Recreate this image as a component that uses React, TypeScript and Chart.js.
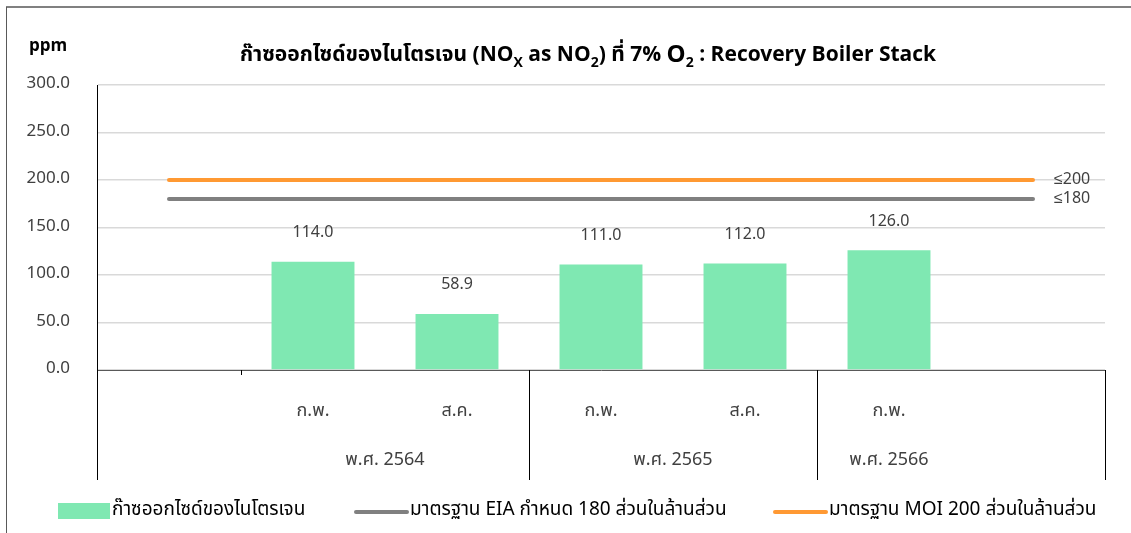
import React, { useEffect, useRef } from 'react';
import { Chart, registerables } from 'chart.js';

Chart.register(...registerables);

const FONT = "'Noto Sans Thai', 'Noto Sans', sans-serif";

const categories = ['', 'ก.พ.', 'ส.ค.', 'ก.พ.', 'ส.ค.', 'ก.พ.', ''];
const noxValues = [null, 114.0, 58.9, 111.0, 112.0, 126.0, null];
const eiaStandard = [180, 180, 180, 180, 180, 180, 180];
const moiStandard = [200, 200, 200, 200, 200, 200, 200];
const eiaLabel = '≤180';
const moiLabel = '≤200';

const groupLabels = ['พ.ศ. 2564', 'พ.ศ. 2565', 'พ.ศ. 2566'];
const groupFirstCat = [1, 3, 5];
const groupLastCat = [2, 4, 5];
const groupEndBoundary = [2, 4, 6];
const shortTickAfter = [0];

const seriesNames = [
  'ก๊าซออกไซด์ของไนโตรเจน',
  'มาตรฐาน EIA กำหนด 180 ส่วนในล้านส่วน',
  'มาตรฐาน MOI 200 ส่วนในล้านส่วน',
];

const yMin = 0;
const yMax = 300;
const yStep = 50;
const unitLabel = 'ppm';

const titleParts = [
  { t: 'ก๊าซออกไซด์ของไนโตรเจน (NO', sub: false },
  { t: 'X', sub: true },
  { t: ' as NO', sub: false },
  { t: '2', sub: true },
  { t: ') ที่ 7% ', sub: false },
  { t: 'O', sub: false, big: true },
  { t: '2', sub: true },
  { t: ' : Recovery Boiler Stack', sub: false },
];

const BAR_COLOR = '#7FE8B2';
const EIA_COLOR = '#808080';
const MOI_COLOR = '#FF9933';
const TEXT = '#404040';

const AXIS_AREA = 110;

const decor = {
  id: 'decor',
  beforeDraw(chart: any) {
    const ctx = chart.ctx;
    ctx.save();
    ctx.strokeStyle = '#808080';
    ctx.lineWidth = 2;
    ctx.beginPath();
    ctx.moveTo(6, 7);
    ctx.lineTo(chart.width, 7);
    ctx.stroke();
    ctx.strokeStyle = '#595959';
    ctx.lineWidth = 1;
    ctx.beginPath();
    ctx.moveTo(6.5, 7);
    ctx.lineTo(6.5, chart.height);
    ctx.stroke();
    ctx.restore();
  },
  afterDraw(chart: any) {
    const ctx = chart.ctx;
    const xs = chart.scales.x;
    const ca = chart.chartArea;
    const half = (xs.getPixelForValue(1) - xs.getPixelForValue(0)) / 2;
    ctx.save();

    // axis area separators
    ctx.strokeStyle = '#000';
    ctx.lineWidth = 1;
    ctx.beginPath();
    ctx.moveTo(Math.round(ca.left) + 0.5, ca.bottom);
    ctx.lineTo(Math.round(ca.left) + 0.5, ca.bottom + AXIS_AREA);
    groupEndBoundary.forEach((c) => {
      const px = Math.round(xs.getPixelForValue(c) + half) + 0.5;
      ctx.moveTo(px, ca.bottom);
      ctx.lineTo(px, ca.bottom + AXIS_AREA);
    });
    shortTickAfter.forEach((c) => {
      const px = Math.round(xs.getPixelForValue(c) + half) + 0.5;
      ctx.moveTo(px, ca.bottom);
      ctx.lineTo(px, ca.bottom + 5);
    });
    ctx.stroke();

    // group labels
    ctx.fillStyle = TEXT;
    ctx.font = `18px ${FONT}`;
    ctx.textAlign = 'center';
    ctx.textBaseline = 'middle';
    groupLabels.forEach((g, i) => {
      const px = (xs.getPixelForValue(groupFirstCat[i]) + xs.getPixelForValue(groupLastCat[i])) / 2;
      ctx.fillText(g, px, ca.bottom + 91);
    });

    // data labels
    const barMeta = chart.getDatasetMeta(0);
    ctx.font = `16px ${FONT}`;
    barMeta.data.forEach((el: any, i: number) => {
      const v = noxValues[i];
      if (v === null || v === undefined) return;
      ctx.fillText(v.toFixed(1), el.x, el.y - 28);
    });

    // standard end labels
    ctx.textAlign = 'left';
    [[1, eiaLabel], [2, moiLabel]].forEach(([idx, lab]: any) => {
      const meta = chart.getDatasetMeta(idx);
      const last = meta.data[meta.data.length - 1];
      ctx.fillText(lab, last.x + 21, last.y + 1);
    });

    // unit label
    ctx.fillStyle = '#000';
    ctx.font = `bold 17px ${FONT}`;
    ctx.textAlign = 'left';
    ctx.fillText(unitLabel, 29, 48);

    // title with subscripts
    const mainFont = `bold 21px ${FONT}`;
    const bigFont = `bold 24px ${FONT}`;
    const subFont = `bold 14px ${FONT}`;
    let total = 0;
    titleParts.forEach((p: any) => {
      ctx.font = p.sub ? subFont : p.big ? bigFont : mainFont;
      total += ctx.measureText(p.t).width;
    });
    let tx = 588 - total / 2;
    const ty = 57;
    ctx.fillStyle = '#000';
    titleParts.forEach((p: any) => {
      ctx.font = p.sub ? subFont : p.big ? bigFont : mainFont;
      ctx.fillText(p.t, tx, p.sub ? ty + 7 : ty);
      tx += ctx.measureText(p.t).width;
    });

    // legend
    const ly = 511;
    ctx.font = `19px ${FONT}`;
    ctx.fillStyle = BAR_COLOR;
    ctx.fillRect(58, 503, 52, 16);
    ctx.fillStyle = '#000';
    ctx.fillText(seriesNames[0], 112, ly);
    ctx.lineCap = 'round';
    ctx.lineWidth = 4;
    ctx.strokeStyle = EIA_COLOR;
    ctx.beginPath();
    ctx.moveTo(356, ly + 1);
    ctx.lineTo(407, ly + 1);
    ctx.stroke();
    ctx.fillText(seriesNames[1], 410, ly);
    ctx.strokeStyle = MOI_COLOR;
    ctx.beginPath();
    ctx.moveTo(775, ly + 1);
    ctx.lineTo(826, ly + 1);
    ctx.stroke();
    ctx.fillText(seriesNames[2], 829, ly);

    ctx.restore();
  },
};

export default function App() {
  const ref = useRef<HTMLCanvasElement | null>(null);
  useEffect(() => {
    if (!ref.current) return;
    const chart = new Chart(ref.current, {
      data: {
        labels: categories,
        datasets: [
          {
            type: 'bar',
            label: seriesNames[0],
            data: noxValues as any,
            backgroundColor: BAR_COLOR,
            barPercentage: 0.576,
            categoryPercentage: 1,
            order: 2,
          },
          {
            type: 'line',
            label: seriesNames[1],
            data: eiaStandard,
            borderColor: EIA_COLOR,
            borderWidth: 4,
            borderCapStyle: 'round',
            pointRadius: 0,
            order: 1,
          },
          {
            type: 'line',
            label: seriesNames[2],
            data: moiStandard,
            borderColor: MOI_COLOR,
            borderWidth: 4,
            borderCapStyle: 'round',
            pointRadius: 0,
            order: 0,
          },
        ],
      } as any,
      options: {
        responsive: false,
        animation: false,
        layout: { padding: { left: 0, top: 85, right: 26, bottom: 53 } },
        plugins: {
          legend: { display: false },
          title: { display: false },
          tooltip: { enabled: false },
        },
        scales: {
          x: {
            offset: true,
            grid: { display: false },
            border: { display: true, color: '#595959', width: 1 },
            ticks: {
              color: TEXT,
              font: { family: FONT, size: 18 },
              padding: 24,
              maxRotation: 0,
              autoSkip: false,
            },
            afterFit: (s: any) => {
              s.height = AXIS_AREA;
            },
          },
          y: {
            min: yMin,
            max: yMax,
            grid: { color: '#D9D9D9', lineWidth: 1.5, drawTicks: false },
            border: { display: true, color: '#000', width: 1 },
            ticks: {
              stepSize: yStep,
              color: TEXT,
              font: { family: FONT, size: 17 },
              padding: 27,
              callback: (v: any) => Number(v).toFixed(1),
            },
            afterFit: (s: any) => {
              s.width = 97;
            },
          },
        },
      } as any,
      plugins: [decor],
    });
    return () => chart.destroy();
  }, []);
  return (
    <div style={{ position: 'absolute', left: 0, top: 0, width: 1131, height: 533 }}>
      <canvas ref={ref} width={1131} height={533} style={{ display: 'block' }} />
    </div>
  );
}
